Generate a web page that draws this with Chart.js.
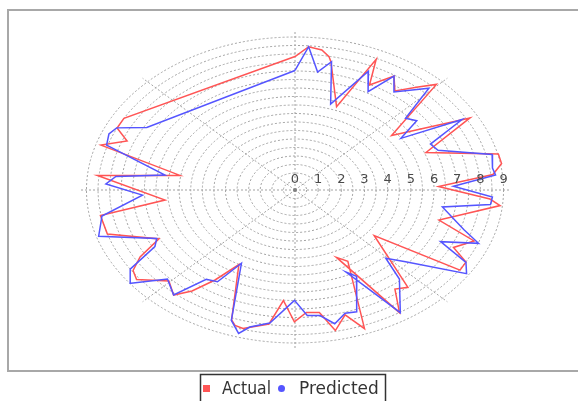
<!DOCTYPE html>
<html>
<head>
<meta charset="utf-8">
<script src="https://cdn.jsdelivr.net/npm/chart.js@4/dist/chart.umd.min.js"></script>
<style>
  html, body { margin: 0; padding: 0; background: #ffffff; }
  #wrap { position: relative; width: 578px; height: 401px; }
</style>
</head>
<body>
<div id="wrap"><canvas id="c" width="578" height="401"></canvas></div>
<script>
// Polar data: angle in degrees, clockwise from north; radius in axis units.
const actualAngles = [0, 4.0, 8.0, 10.6, 11.6, 20.1, 24.5, 27.5, 32.5, 36.5, 41.2, 44.5, 52.4, 60.7, 68.7, 76.4, 80.1, 83.9, 88.1, 93.6, 95.9, 105.9, 111.2, 116.3, 119.9, 123.5, 128.1, 139.6, 143.5, 148.0, 155.7, 151.5, 159.8, 163.6, 168.1, 171.7, 176.1, 180.2, 184.4, 188.1, 195.4, 198.0, 199.7, 208.9, 213.1, 216.8, 220.3, 225.5, 232.4, 235.9, 239.5, 243.9, 252.3, 259.9, 264.0, 275.7, 279.8, 287.5, 291.7, 295.4, 299.7];
const actualValues = [7.85, 8.45, 8.32, 7.98, 7.71, 5.22, 8.45, 6.96, 7.95, 7.25, 8.06, 8.71, 5.26, 8.66, 6.07, 9.03, 9.05, 8.59, 6.20, 8.43, 8.90, 6.46, 8.29, 7.63, 8.51, 8.54, 4.34, 7.52, 7.25, 8.51, 4.35, 4.78, 8.69, 7.66, 8.45, 7.28, 7.22, 7.75, 6.52, 7.96, 8.45, 8.38, 8.12, 5.01, 6.32, 7.42, 8.10, 7.63, 8.63, 8.44, 7.76, 6.54, 8.50, 8.53, 5.64, 8.57, 5.04, 8.78, 7.80, 8.50, 8.50];

const predictedAngles = [0, 4.0, 8.0, 11.8, 16.9, 24.4, 28.6, 32.5, 36.5, 44.0, 48.5, 52.2, 56.4, 60.1, 65.2, 69.3, 76.2, 81.4, 84.2, 88.2, 92.8, 95.8, 98.9, 107.8, 111.6, 115.8, 120.0, 123.6, 131.5, 135.7, 139.3, 147.8, 155.5, 152.4, 159.6, 163.4, 167.7, 171.7, 175.9, 180.2, 187.9, 193.6, 196.1, 199.7, 208.2, 211.8, 216.1, 220.3, 226.4, 232.2, 236.8, 241.2, 244.5, 252.2, 259.6, 267.4, 272.5, 275.9, 278.9, 288.0, 292.3, 295.4, 299.9];
const predictedValues = [7.03, 8.45, 7.01, 7.71, 5.29, 7.67, 6.59, 7.95, 7.18, 8.32, 6.37, 6.65, 5.49, 8.32, 6.44, 6.60, 8.76, 8.62, 8.70, 6.84, 8.53, 8.48, 6.44, 7.66, 8.52, 6.98, 8.52, 8.89, 6.37, 5.61, 6.91, 8.53, 5.31, 5.73, 7.64, 7.57, 8.05, 7.46, 7.40, 6.49, 7.90, 8.29, 8.78, 8.15, 4.89, 6.35, 6.50, 8.10, 7.60, 8.96, 8.50, 6.90, 6.61, 8.90, 8.47, 6.59, 8.17, 7.77, 5.68, 8.55, 8.68, 8.52, 7.38];

// Radius axis
const radiusLabels = [0, 1, 2, 3, 4, 5, 6, 7, 8, 9];
const radiusGrid = [0.5, 1, 1.5, 2, 2.5, 3, 3.5, 4, 4.5, 5, 5.5, 6, 6.5, 7, 7.5, 8, 8.5, 9];
const spokeAngles = [0, 45, 90, 135, 180, 225, 270, 315];
const radiusMax = 9.3;

const seriesNames = ['Actual', 'Predicted'];
const seriesColors = ['#ff5555', '#5555ff'];

// polar -> cartesian in data units, closing the loop back to the first point
function toXY(angles, values) {
  const pts = angles.map((a, i) => {
    const t = a * Math.PI / 180;
    return { x: values[i] * Math.sin(t), y: values[i] * Math.cos(t) };
  });
  pts.push({ x: pts[0].x, y: pts[0].y });
  return pts;
}

const FONT = '"DejaVu Sans", "Liberation Sans", sans-serif';

const polarGrid = {
  id: 'polarGrid',
  beforeDatasetsDraw(chart) {
    const { ctx } = chart;
    const xs = chart.scales.x, ys = chart.scales.y;
    const cx = xs.getPixelForValue(0), cy = ys.getPixelForValue(0);
    const kx = xs.getPixelForValue(1) - cx, ky = cy - ys.getPixelForValue(1);
    ctx.save();
    ctx.strokeStyle = '#a2a2a2';
    ctx.lineWidth = 1;
    ctx.setLineDash([2, 2]);
    radiusGrid.forEach(r => {
      ctx.beginPath();
      ctx.ellipse(cx, cy, r * kx, r * ky, 0, 0, Math.PI * 2);
      ctx.stroke();
    });
    spokeAngles.forEach(a => {
      const t = a * Math.PI / 180;
      ctx.beginPath();
      ctx.moveTo(cx, cy);
      ctx.lineTo(cx + radiusMax * Math.sin(t) * kx, cy - radiusMax * Math.cos(t) * ky);
      ctx.stroke();
    });
    ctx.setLineDash([]);
    ctx.fillStyle = '#808080';
    ctx.beginPath();
    ctx.arc(cx, cy, 2, 0, Math.PI * 2);
    ctx.fill();
    ctx.restore();
  },
  afterDatasetsDraw(chart) {
    const { ctx } = chart;
    const xs = chart.scales.x, ys = chart.scales.y;
    const cy = ys.getPixelForValue(0);
    ctx.save();
    ctx.fillStyle = '#4a4a4a';
    ctx.font = '13px ' + FONT;
    ctx.textAlign = 'center';
    ctx.textBaseline = 'middle';
    radiusLabels.forEach(v => {
      ctx.fillText(String(v), xs.getPixelForValue(v), cy - 10);
    });
    ctx.restore();
  },
  afterDraw(chart) {
    const { ctx } = chart;
    ctx.save();
    // plot outline
    ctx.strokeStyle = '#a8a8a8';
    ctx.lineWidth = 2;
    ctx.strokeRect(8, 10, 580, 361);
    // legend
    ctx.strokeStyle = '#333333';
    ctx.lineWidth = 1.5;
    ctx.strokeRect(200.5, 374.5, 185, 40);
    ctx.font = '17px ' + FONT;
    ctx.textBaseline = 'middle';
    ctx.textAlign = 'left';
    ctx.fillStyle = seriesColors[0];
    ctx.fillRect(203, 385, 7, 7);
    ctx.fillStyle = '#333333';
    ctx.fillText(seriesNames[0], 222, 390, 49);
    ctx.fillStyle = seriesColors[1];
    ctx.beginPath();
    ctx.arc(281.5, 388.5, 3.5, 0, Math.PI * 2);
    ctx.fill();
    ctx.fillStyle = '#333333';
    ctx.fillText(seriesNames[1], 299, 390);
    ctx.restore();
  }
};

new Chart(document.getElementById('c'), {
  type: 'scatter',
  data: {
    datasets: [
      {
        label: seriesNames[0],
        data: toXY(actualAngles, actualValues),
        showLine: true,
        borderColor: seriesColors[0],
        backgroundColor: seriesColors[0],
        borderWidth: 1.5,
        pointRadius: 0,
        tension: 0,
        order: 1
      },
      {
        label: seriesNames[1],
        data: toXY(predictedAngles, predictedValues),
        showLine: true,
        borderColor: seriesColors[1],
        backgroundColor: seriesColors[1],
        borderWidth: 1.5,
        pointRadius: 0,
        tension: 0,
        order: 0
      }
    ]
  },
  options: {
    responsive: false,
    animation: false,
    devicePixelRatio: 1,
    layout: { padding: { left: 63.3, right: 51.3, top: 20, bottom: 41 } },
    scales: {
      x: { type: 'linear', min: -10, max: 10, display: false },
      y: { type: 'linear', min: -10, max: 10, display: false }
    },
    plugins: {
      legend: { display: false },
      tooltip: { enabled: false }
    }
  },
  plugins: [polarGrid]
});
</script>
</body>
</html>
